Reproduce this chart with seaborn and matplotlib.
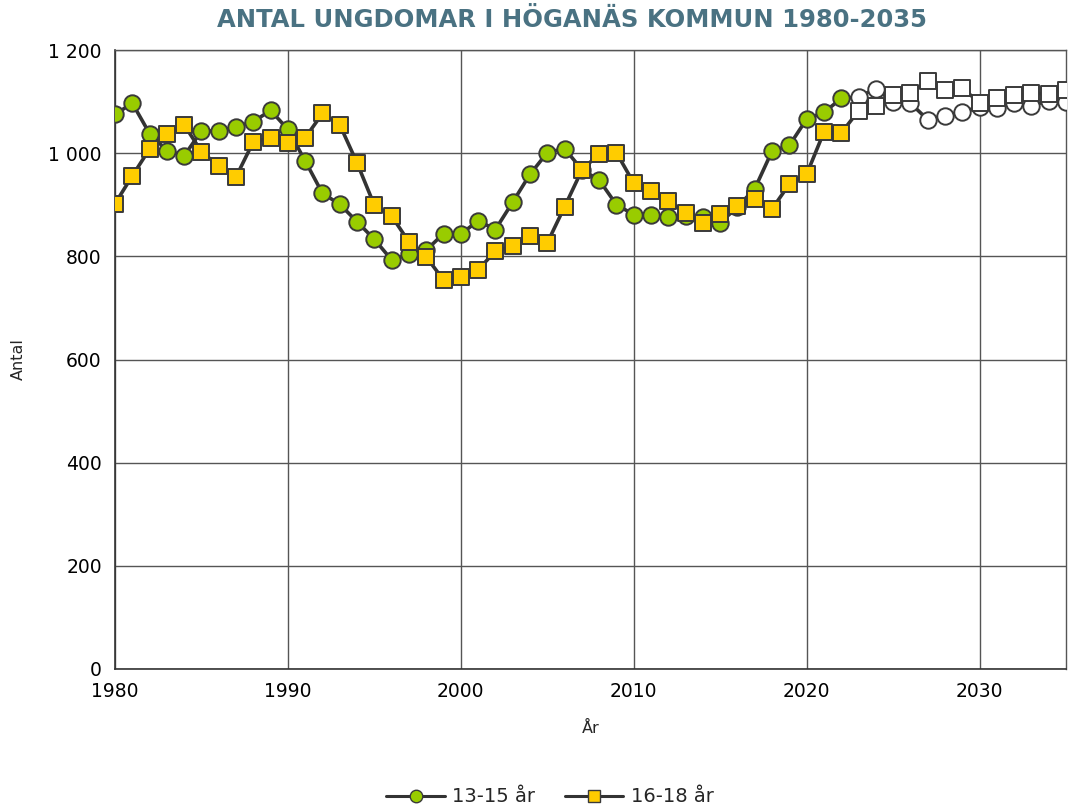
import numpy as np
import pandas as pd
import matplotlib.pyplot as plt
import seaborn as sns
from matplotlib.lines import Line2D
from matplotlib.ticker import FuncFormatter

years = list(range(1980, 2036))
age_13_15 = [1075, 1097, 1038, 1005, 995, 1043, 1043, 1051, 1061, 1083,
             1046, 985, 922, 901, 867, 833, 793, 804, 812, 844,
             843, 869, 852, 905, 959, 1001, 1009, 968, 948, 900,
             881, 881, 876, 878, 877, 865, 896, 931, 1004, 1015,
             1066, 1079, 1106, 1109, 1125, 1099, 1097, 1065, 1073, 1080,
             1090, 1088, 1097, 1092, 1102, 1099]
age_16_18 = [902, 956, 1008, 1038, 1055, 1003, 975, 954, 1022, 1030,
             1019, 1030, 1077, 1055, 981, 899, 878, 828, 799, 754,
             760, 774, 810, 820, 840, 826, 896, 967, 999, 1001,
             942, 926, 908, 884, 864, 883, 897, 912, 892, 940,
             959, 1041, 1039, 1082, 1091, 1112, 1116, 1140, 1122, 1126,
             1098, 1107, 1112, 1117, 1114, 1123]
last_actual = 2022
series_names = ["13-15 år", "16-18 år"]

df = pd.DataFrame({"År": years, series_names[0]: age_13_15, series_names[1]: age_16_18})
df["prognos"] = df["År"] > last_actual

sns.set_style("white")
plt.rcParams['font.family'] = ['DejaVu Sans']

fig = plt.figure(figsize=(10.76, 8.11), dpi=100)
ax = fig.add_axes([115/1076, 1 - 669/811, 951/1076, 619/811])

line_col = "#333333"
edge_col = "#3a3a3a"
styles = [("o", "#99CC00", 140), ("s", "#FFCC00", 140)]

for i, (name, (mk, fill, size)) in enumerate(zip(series_names, styles)):
    z = 3 + i * 3
    sns.lineplot(data=df, x="År", y=name, color=line_col, lw=2.6, ax=ax, zorder=z)
    hist = df[~df["prognos"]]
    prog = df[df["prognos"]]
    sns.scatterplot(data=hist, x="År", y=name, marker=mk, s=size, color=fill,
                    edgecolor=edge_col, linewidth=1.4, ax=ax, zorder=z + 1)
    sns.scatterplot(data=prog, x="År", y=name, marker=mk, s=size, color="white",
                    edgecolor=edge_col, linewidth=1.4, ax=ax, zorder=z + 1)

ax.set_xlim(1980, 2035)
ax.set_ylim(0, 1200)
ax.set_xticks(range(1980, 2031, 10))
ax.set_yticks(range(0, 1201, 200))
ax.yaxis.set_major_formatter(FuncFormatter(lambda v, p: f"{int(v):,}".replace(",", " ")))
ax.grid(True, color="#555555", lw=1.0)
ax.set_axisbelow(True)
for s in ax.spines.values():
    s.set_color("#555555")
    s.set_linewidth(1.0)
ax.tick_params(axis="both", which="both", direction="out", length=6, width=1,
               color="#555555", labelsize=13.5, colors="black")
for sp in ["left", "bottom"]:
    ax.spines[sp].set_color("#333333")
    ax.spines[sp].set_linewidth(1.2)

ax.set_xlabel("År", fontsize=11.5, labelpad=14)
ax.set_ylabel("Antal", fontsize=11.5, labelpad=16)

fig.text(572/1076, 1 - 20/811, "ANTAL UNGDOMAR I HÖGANÄS KOMMUN 1980-2035",
         ha="center", va="center", fontsize=17.5, fontweight="bold", color="#4A7282")

handles = [
    Line2D([], [], color=line_col, lw=2.2, marker="o", markersize=9,
           markerfacecolor="#99CC00", markeredgecolor=edge_col),
    Line2D([], [], color=line_col, lw=2.2, marker="s", markersize=9,
           markerfacecolor="#FFCC00", markeredgecolor=edge_col),
]
fig.legend(handles, series_names, loc="center", bbox_to_anchor=(550/1076, 1 - 797/811),
           ncol=2, frameon=False, fontsize=14, handlelength=3.0, columnspacing=1.5,
           handletextpad=0.4)

fig.savefig("out.png", dpi=100)
